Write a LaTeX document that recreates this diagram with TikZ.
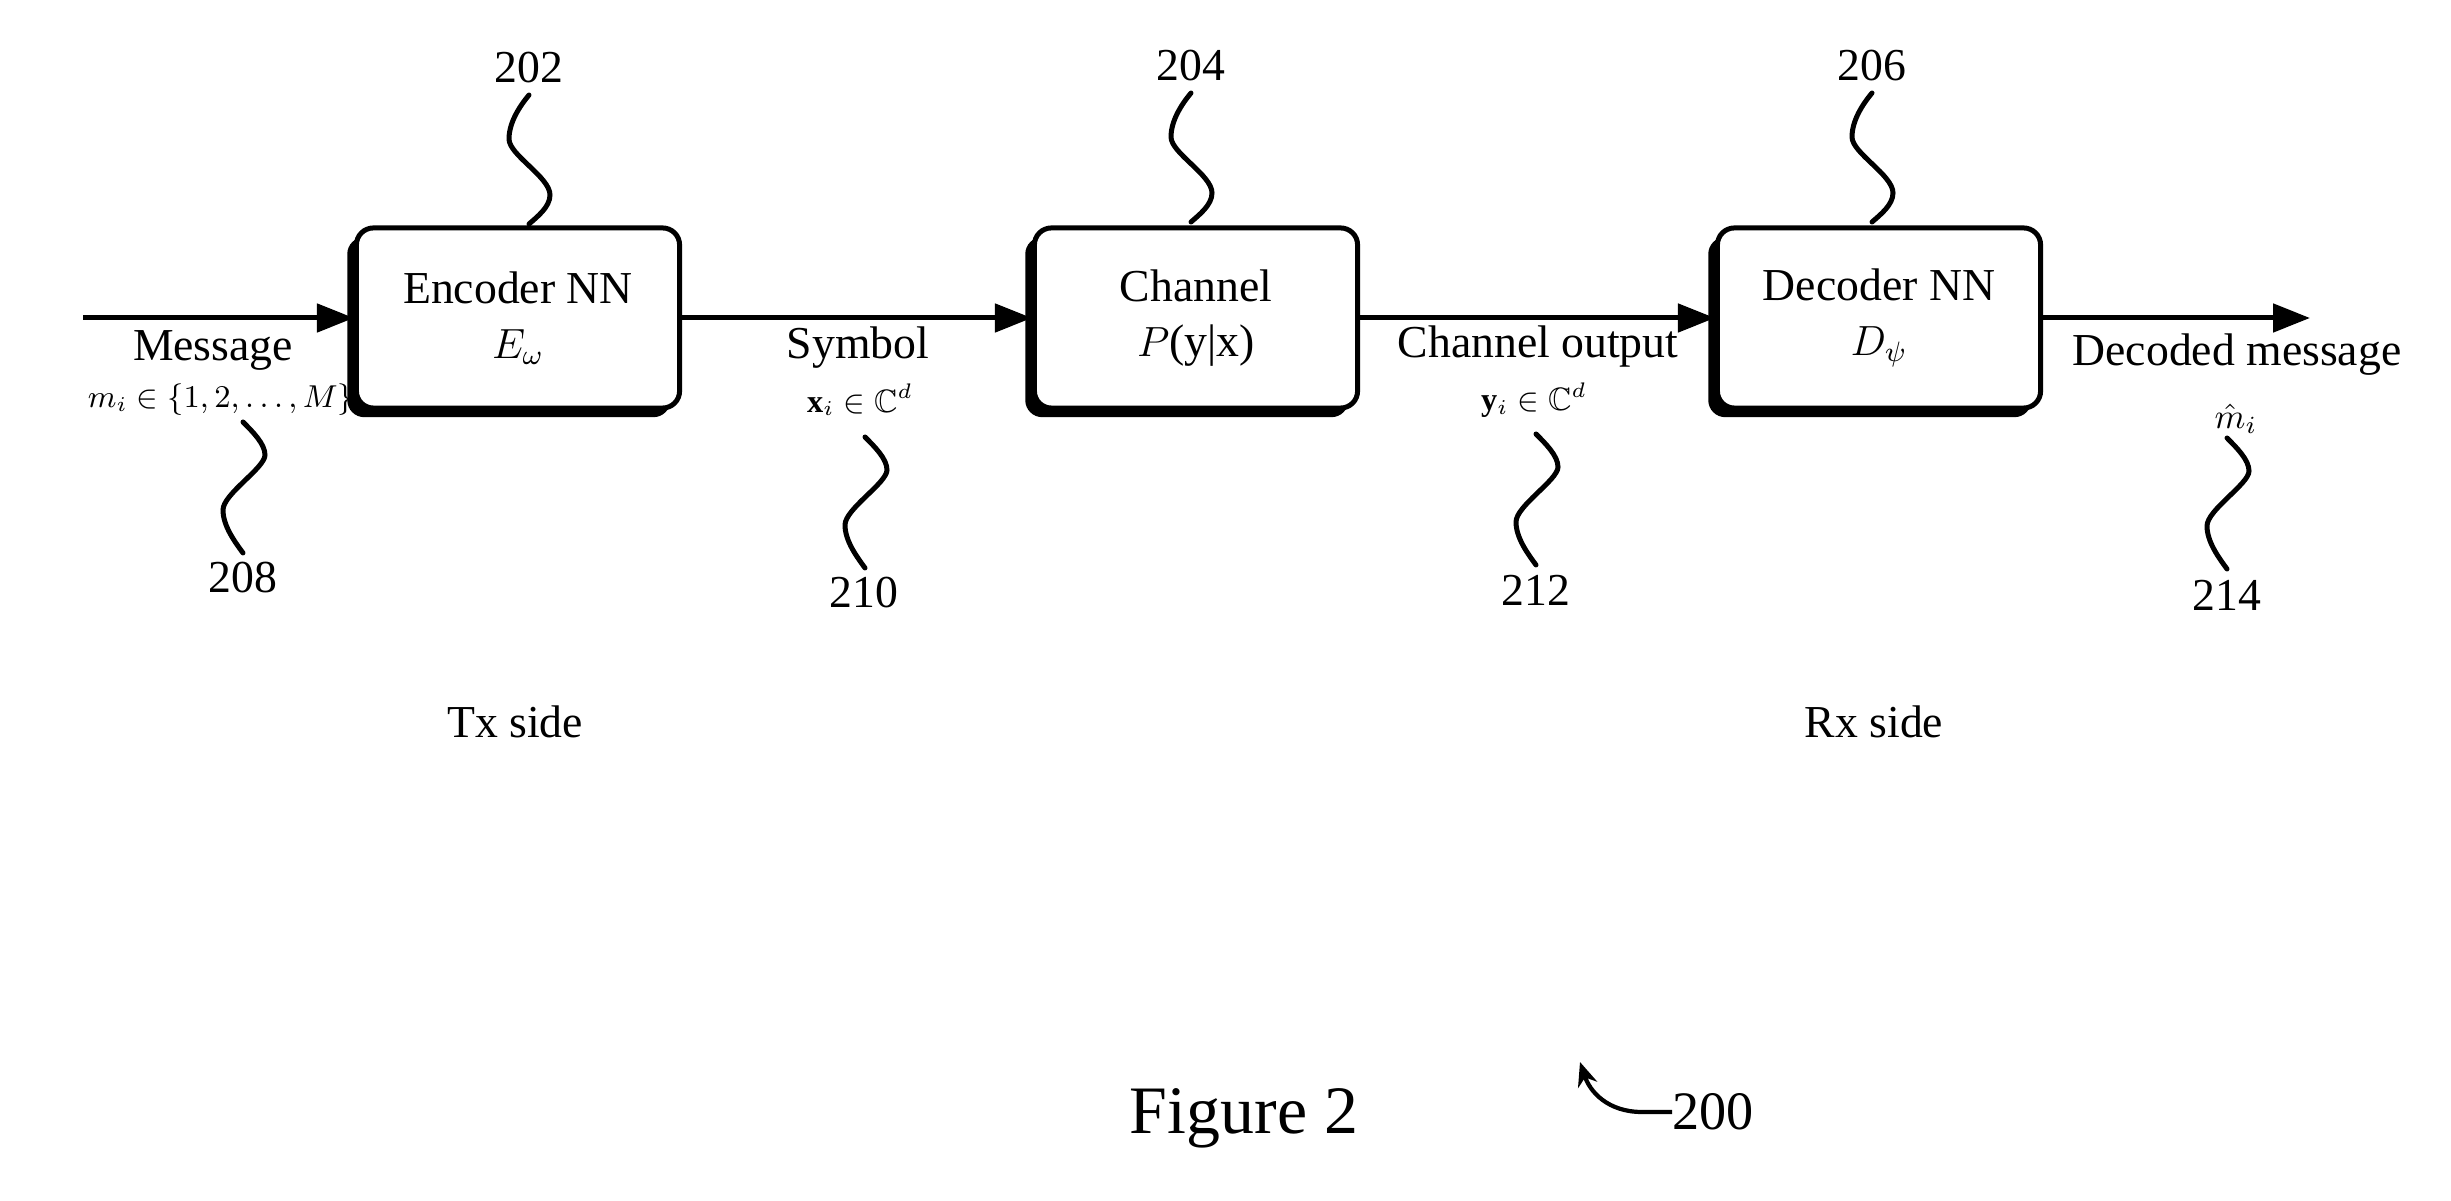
\documentclass[tikz,border=0pt]{standalone}
\usepackage{fontspec}
\setmainfont{Liberation Serif}
\usepackage{amsmath,amssymb}
\usetikzlibrary{arrows.meta,shadows}
\begin{document}
\begin{tikzpicture}[x=0.01cm,y=-0.01cm,
  txt/.style={font=\fontsize{13}{15.6}\selectfont, inner sep=0pt},
  mth/.style={font=\fontsize{9.2}{11}\selectfont, inner sep=0pt},
  num/.style={font=\fontsize{13}{15.6}\selectfont, inner sep=0pt},
  blk/.style={draw, line width=1.42pt, rounded corners=0.17cm, fill=white,
    minimum width=3.23cm, minimum height=1.8cm, align=center, inner sep=0pt,
    font=\fontsize{13}{15.6}\selectfont,
    general shadow={fill=black, shadow xshift=-2.6pt, shadow yshift=-2.6pt}},
  arr/.style={line width=1.42pt, -{Triangle[length=0.37cm, width=0.28cm]}},
  lead/.style={line width=1.42pt, line cap=round},
  sqtop/.pic={\draw[lead] (0,0) .. controls (-10,12) and (-20,28) .. (-20,44)
     .. controls (-20,60) and (21,82) .. (21,100)
     .. controls (21,112) and (8,122) .. (0,129);},
  sqbot/.pic={\draw[lead] (0,0) .. controls (10,10) and (22,22) .. (22,33)
     .. controls (22,46) and (-20,72) .. (-20,88)
     .. controls (-20,104) and (-8,120) .. (0,131);}
]
\useasboundingbox[fill=white] (0,0) rectangle (2451,1201);

% blocks
\node[blk] (enc) at (518,318) {Encoder NN\\{\fontsize{12}{14}\selectfont $E_\omega$}};
\node[blk] (chn) at (1196,318) {Channel\\$P$(y|x)};
\node[blk] (dec) at (1879,318) {Decoder NN\\{\fontsize{12}{14}\selectfont $D_\psi$}};

% arrows
\coordinate (in) at (83,318);
\coordinate (out) at (2310,318);
\draw[arr] (in) -- (enc.west);
\draw[arr] (enc.east) -- (chn.west);
\draw[arr] (chn.east) -- (dec.west);
\draw[arr] (dec.east) -- (out);

% signal labels
\node[txt] (msg) at (213,350) {Message};
\node[mth, font=\fontsize{8.6}{10}\selectfont] (mi) at (221,400) {$m_i \in \{1,2,\ldots,M\}$};
\node[txt] (sym) at (858,348) {Symbol};
\node[mth] (xi) at (860,400) {$\mathbf{x}_i \in \mathbb{C}^d$};
\node[txt] (cho) at (1538,347) {Channel output};
\node[mth] (yi) at (1534,400) {$\mathbf{y}_i \in \mathbb{C}^d$};
\node[txt] (dm) at (2237,355) {Decoded message};
\node[mth, font=\fontsize{10}{12}\selectfont] (mh) at (2236,419) {$\hat{m}_i$};

% reference numerals
\node[num] (n202) at (529,68) {202};
\node[num] (n204) at (1191,66) {204};
\node[num] (n206) at (1872,66) {206};
\node[num] (n208) at (243,578) {208};
\node[num] (n210) at (864,593) {210};
\node[num] (n212) at (1536,590) {212};
\node[num] (n214) at (2227,595) {214};

% leader squiggles
\coordinate (s202) at (529,95);
\coordinate (s204) at (1191,93);
\coordinate (s206) at (1872,93);
\pic at (s202) {sqtop};
\pic at (s204) {sqtop};
\pic at (s206) {sqtop};
\coordinate (s208) at (243,422);
\coordinate (s210) at (865,437);
\coordinate (s212) at (1536,434);
\coordinate (s214) at (2227,438);
\pic at (s208) {sqbot};
\pic at (s210) {sqbot};
\pic at (s212) {sqbot};
\pic at (s214) {sqbot};

% side labels
\node[txt] (tx) at (515,722) {Tx side};
\node[txt] (rx) at (1874,722) {Rx side};

% figure caption
\node[inner sep=0pt, font=\fontsize{19.3}{23}\selectfont] (fig) at (1244,1118) {Figure 2};
\node[inner sep=0pt, font=\fontsize{15.4}{18}\selectfont, anchor=west] (n200) at (1672,1112) {200};
\draw[line width=1.2pt, -{Stealth[length=0.24cm, width=0.2cm]}] (n200.west) -- ++(-30,0)
  .. controls (1608,1112) and (1590,1092) .. (1580,1062);
\end{tikzpicture}
\end{document}
